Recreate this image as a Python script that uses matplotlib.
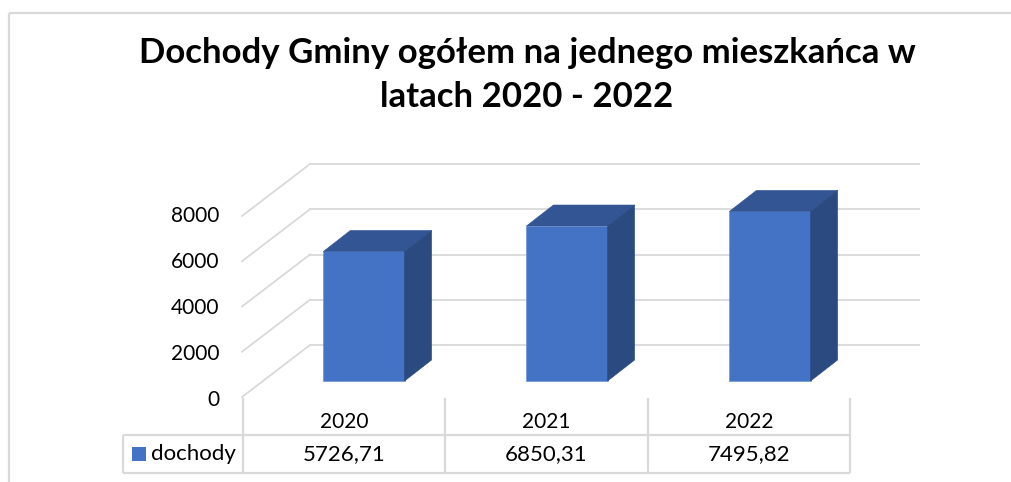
import matplotlib
matplotlib.use("Agg")
import matplotlib.pyplot as plt
from matplotlib.lines import Line2D
from matplotlib.patches import Polygon, Rectangle
from matplotlib.transforms import Affine2D

years = ["2020", "2021", "2022"]
dochody = [5726.71, 6850.31, 7495.82]
y_ticks = [0, 2000, 4000, 6000, 8000]
series_name = "dochody"
title = "Dochody Gminy ogółem na jednego mieszkańca w\nlatach 2020 - 2022"

W, H = 1011, 482
GRID = "#d9d9d9"
FRONT, TOP, SIDE = "#4472C4", "#335593", "#2B4A80"
TXT = "#000000"
plt.rcParams["font.family"] = ["Lato", "DejaVu Sans"]

fig = plt.figure(figsize=(W / 100, H / 100), dpi=100, facecolor="white")
ax = fig.add_axes([242 / W, (H - 397) / H, 609 / W, 181 / H])
ax.set_xlim(0, len(years))
ax.set_ylim(0, 8000)
ax.axis("off")


def shifted(dx, dy):
    return ax.transData + Affine2D().translate(dx, dy)


def px(x, y):
    return (x / W, (H - y) / H)


def fline(xs, ys, lw=1.6):
    pts = [px(a, b) for a, b in zip(xs, ys)]
    fig.add_artist(Line2D([p[0] for p in pts], [p[1] for p in pts], transform=fig.transFigure,
                          color=GRID, lw=lw, solid_capstyle="butt"))


def ftext(x, y, s, ha="center", size=15):
    p = px(x, y)
    fig.text(p[0], p[1], s, ha=ha, va="center", fontsize=size, color=TXT)


# outer chart frame
fline([9, 9], [13, 482])
fline([9, 1011], [13, 13])

# wall gridlines and y tick labels
DX, DY = 68, 52
back = shifted(DX, DY)
n = len(years)
for t in y_ticks:
    ax.plot([0, n], [t, t], transform=back, color=GRID, lw=1.3, clip_on=False, zorder=1)
    p0 = ax.transData.transform((0, t))
    p1 = back.transform((0, t))
    fig.add_artist(Line2D([p0[0] / W, p1[0] / W], [p0[1] / H, p1[1] / H], transform=fig.transFigure,
                          color=GRID, lw=1.3))
    ax.text(0, t * 1.016, f"{t}", transform=shifted(-23, -2.5),
            ha="right", va="center", fontsize=15, color=TXT, clip_on=False)

# bars
BW = 0.4
BX, BY = 20.5, 16
DBX, DBY = 27, 21
front = shifted(BX, BY)
rear = shifted(BX + DBX, BY + DBY)
inv = ax.transData.inverted()
for i, v in enumerate(dochody):
    l, r = i + 0.5 - BW / 2, i + 0.5 + BW / 2
    ax.add_patch(Rectangle((l, 0), BW, v, transform=front, fc=FRONT, ec="#6f93d4", lw=0.5, zorder=3, clip_on=False))
    a = inv.transform(front.transform([(l, v), (r, v), (r, 0)]))
    b = inv.transform(rear.transform([(l, v), (r, v), (r, 0)]))
    ax.add_patch(Polygon([a[0], a[1], b[1], b[0]], closed=True, fc=TOP, ec=TOP, lw=0.4, zorder=3, clip_on=False))
    ax.add_patch(Polygon([a[1], a[2], b[2], b[1]], closed=True, fc=SIDE, ec=SIDE, lw=0.4, zorder=3, clip_on=False))

# data table
edges = [243, 445, 648, 850]
for x in edges:
    fline([x, x], [398, 473])
fline([123, 123], [435, 473])
fline([123, 850], [435, 435])
fline([123, 850], [473, 473])
for i, (y, v) in enumerate(zip(years, dochody)):
    cx = (edges[i] + edges[i + 1]) / 2
    ftext(cx, 422, y)
    ftext(cx, 454, f"{v:.2f}".replace(".", ","), size=16)
sw = px(132, 461)
fig.add_artist(Rectangle(sw, 14 / W, 14 / H, transform=fig.transFigure, fc=FRONT, ec="none"))
ftext(151, 454, series_name, ha="left", size=16)

# title
p = px(527, 75)
fig.text(p[0], p[1], title, ha="center", va="center", fontsize=25, fontweight="bold", color=TXT, linespacing=1.47)

fig.savefig("out.png", dpi=100, facecolor="white")
